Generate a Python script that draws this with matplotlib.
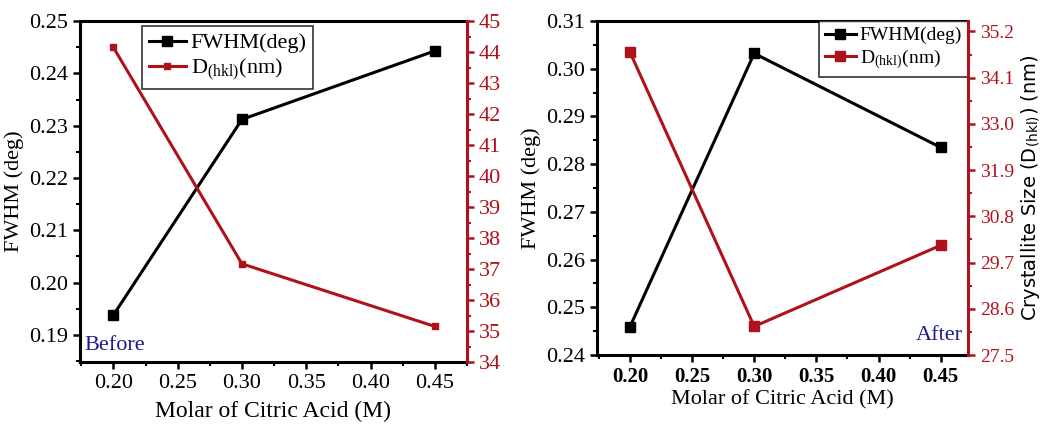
import numpy as np
import matplotlib.pyplot as plt
from matplotlib.ticker import MultipleLocator, FixedLocator, AutoMinorLocator

plt.rcParams['font.family'] = ['Liberation Serif', 'DejaVu Serif']
plt.rcParams['mathtext.fontset'] = 'stix'

molar = [0.20, 0.30, 0.45]

# before annealing
fwhm_before = [0.1938, 0.2312, 0.2443]
d_before = [44.15, 37.17, 35.15]

# after annealing
fwhm_after = [0.2459, 0.3032, 0.2835]
d_after = [34.71, 28.18, 30.11]

xticks = [0.20, 0.25, 0.30, 0.35, 0.40, 0.45]
red = '#b0121b'
navy = '#1c1c8c'

fig = plt.figure(figsize=(10.44, 4.25), dpi=100)


def style_axes(ax, ax2, lw=2.2):
    for s in ['left', 'bottom', 'top']:
        ax.spines[s].set_linewidth(lw)
    ax.spines['right'].set_visible(False)
    ax2.spines['right'].set_color(red)
    ax2.spines['right'].set_linewidth(lw)
    for s in ['left', 'bottom', 'top']:
        ax2.spines[s].set_visible(False)
    ax.tick_params(which='major', direction='out', length=5, width=1.8)
    ax.tick_params(which='minor', direction='out', length=3, width=1.5)
    ax2.tick_params(which='major', direction='out', length=5, width=1.8,
                    colors=red)
    ax2.tick_params(which='minor', direction='out', length=3, width=1.5,
                    colors=red)
    ax.xaxis.set_minor_locator(AutoMinorLocator(2))
    ax.yaxis.set_minor_locator(AutoMinorLocator(2))
    ax2.yaxis.set_minor_locator(AutoMinorLocator(2))


# ---- left panel: Before ----
ax = fig.add_axes([0.0766, 0.148, 0.3707, 0.8024])
ax2 = ax.twinx()
l1, = ax.plot(molar, fwhm_before, '-s', color='black', lw=2.2, ms=7,
              label='FWHM(deg)')
l2, = ax2.plot(molar, d_before, '-s', color=red, lw=2.2, ms=5,
               label=r'D$_{\mathregular{(hkl)}}$(nm)')
ax.set_xlim(0.174, 0.475)
ax.set_ylim(0.1848, 0.25)
ax2.set_ylim(34, 45)
ax.set_xticks(xticks)
ax.set_xticklabels(['%.2f' % v for v in xticks], fontsize=16)
ax.set_yticks([0.19, 0.20, 0.21, 0.22, 0.23, 0.24, 0.25])
ax.set_yticklabels(['%.2f' % v for v in ax.get_yticks()], fontsize=16)
ax2.yaxis.set_major_locator(MultipleLocator(1))
ax2.tick_params(axis='y', labelsize=16)
style_axes(ax, ax2)
ax.set_xlabel('Molar of Citric Acid (M)', fontsize=17, labelpad=6)
ax.set_ylabel('FWHM (deg)', fontsize=16, labelpad=4)
ax.text(0.012, 0.02, 'Before', color=navy, fontsize=16,
        transform=ax.transAxes, ha='left', va='bottom')
leg = ax.legend(handles=[l1, l2], loc='upper left',
                bbox_to_anchor=(0.16, 0.985), fontsize=16, frameon=True,
                fancybox=False, edgecolor='black', handlelength=1.7,
                borderpad=0.3, labelspacing=0.15, handletextpad=0.2,
                borderaxespad=0)
leg.get_frame().set_linewidth(1.2)

# ---- right panel: After ----
bx = fig.add_axes([0.5718, 0.1647, 0.3554, 0.786])
bx2 = bx.twinx()
m1, = bx.plot(molar, fwhm_after, '-s', color='black', lw=2.2, ms=7,
              label='FWHM(deg)')
m2, = bx2.plot(molar, d_after, '-s', color=red, lw=2.2, ms=7,
               label=r'D$_{\mathregular{(hkl)}}$(nm)')
bx.set_xlim(0.1735, 0.472)
bx.set_ylim(0.24, 0.31)
bx2.set_ylim(27.5, 35.45)
bx.set_xticks(xticks)
bx.set_xticklabels(['%.2f' % v for v in xticks], fontsize=15,
                   fontweight='bold')
bx.set_yticks([0.24, 0.25, 0.26, 0.27, 0.28, 0.29, 0.30, 0.31])
bx.set_yticklabels(['%.2f' % v for v in bx.get_yticks()], fontsize=16)
d_ticks = [27.5, 28.6, 29.7, 30.8, 31.9, 33.0, 34.1, 35.2]
bx2.yaxis.set_major_locator(FixedLocator(d_ticks))
bx2.set_yticklabels(['%.1f' % v for v in d_ticks], fontsize=14)
style_axes(bx, bx2)
bx2.yaxis.set_minor_locator(FixedLocator(
    [v + 0.55 for v in d_ticks[:-1]]))
bx.set_xlabel('Molar of Citric Acid (M)', fontsize=16, labelpad=2)
bx.set_ylabel('FWHM (deg)', fontsize=16, labelpad=4)
bx2.set_ylabel(r'Crystallite Size (D$_{\mathregular{(hkl)}}$) (nm)',
               fontsize=14, family=['DejaVu Sans'], labelpad=4)
bx.text(0.985, 0.03, 'After', color=navy, fontsize=16,
        transform=bx.transAxes, ha='right', va='bottom')
leg2 = bx.legend(handles=[m1, m2], loc='upper right',
                 bbox_to_anchor=(1.0, 1.0), fontsize=14, frameon=True,
                 fancybox=False, edgecolor='black', handlelength=1.6,
                 borderpad=0.3, labelspacing=0.15, handletextpad=0.2,
                 borderaxespad=0)
leg2.get_frame().set_linewidth(1.2)

fig.savefig('out.png', dpi=100)
